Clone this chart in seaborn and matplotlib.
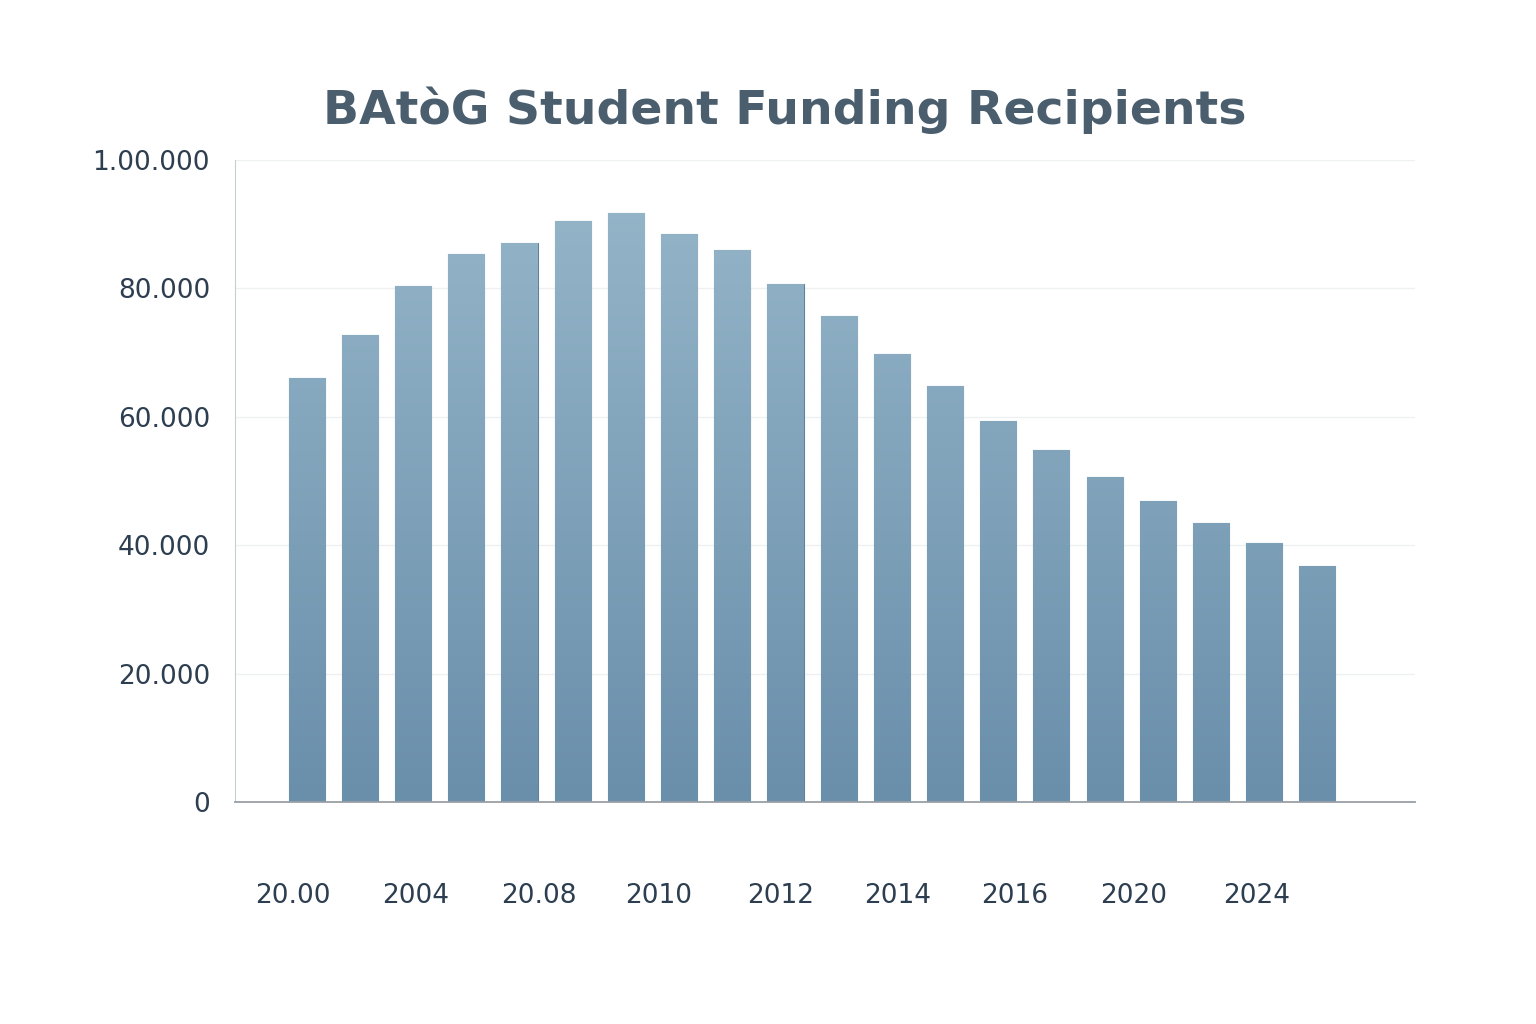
import numpy as np
import seaborn as sns
import matplotlib.pyplot as plt
import matplotlib.colors as mcolors

years = [str(y) for y in range(2000, 2020)]
recipients = [66000, 72700, 80400, 85400, 87100, 90500, 91700, 88500, 86000, 80700,
              75700, 69800, 64800, 59300, 54800, 50600, 46900, 43500, 40300, 36800]
tick_pos = [-0.26, 2.05, 4.36, 6.62, 8.91, 11.11, 13.31, 15.55, 17.86]
tick_labels = ["20.00", "2004", "20.08", "2010", "2012", "2014", "2016", "2020", "2024"]
y_ticks = [0, 20000, 40000, 60000, 80000, 100000]
y_labels = ["0", "20.000", "40.000", "60.000", "80.000", "1.00.000"]

sns.set_style("white")
plt.rcParams['font.family'] = ['DejaVu Sans']

fig = plt.figure(figsize=(15.36, 10.24), dpi=100)
ax = fig.add_axes([0.153, 0.2168, 0.768, 0.627])

sns.barplot(x=years, y=recipients, ax=ax, width=0.68, color="#7fa3bb",
            edgecolor="#5f8299", linewidth=0.8)

# vertical gradient inside each bar
cmap = mcolors.LinearSegmentedColormap.from_list("g", ["#6a8fab", "#97b7ca"])
grad = np.linspace(0, 1, 256).reshape(-1, 1)
for p in ax.patches:
    x0, w, h = p.get_x(), p.get_width(), p.get_height()
    im = ax.imshow(grad, cmap=cmap, origin="lower", aspect="auto",
                   extent=[x0, x0 + w, 0, 100000], zorder=p.get_zorder() + 0.1)
    im.set_clip_path(p)

ax.set_xlim(-1.35, 20.83)
ax.set_ylim(0, 100000)
ax.set_yticks(y_ticks)
ax.set_yticklabels(y_labels, fontsize=19, color="#2d3e50")
ax.set_xticks(tick_pos)
ax.set_xticklabels(tick_labels, fontsize=19, color="#2d3e50")
ax.tick_params(axis="x", length=0, pad=58)
ax.tick_params(axis="y", length=0, pad=18)
ax.yaxis.grid(True, color="#eef0f2", linewidth=1)
ax.set_axisbelow(True)
for s in ["top", "right"]:
    ax.spines[s].set_visible(False)
ax.spines["left"].set_color("#c8cdd2")
ax.spines["bottom"].set_color("#999fa5")
ax.spines["bottom"].set_linewidth(1.3)

fig.text(0.511, 0.892, "BAtòG Student Funding Recipients", ha="center", va="center",
         fontsize=34, fontweight="bold", color="#4a5e6e")

fig.savefig("out.png", dpi=100, facecolor="white")
